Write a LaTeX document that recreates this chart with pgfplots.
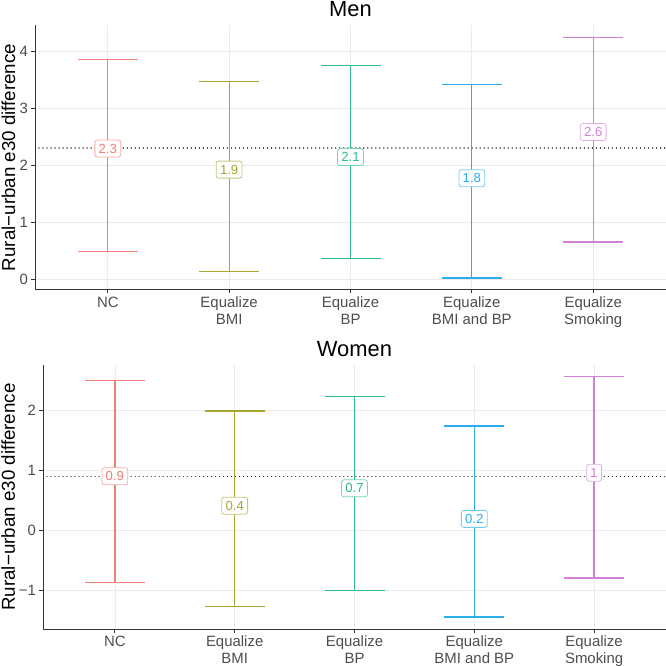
\documentclass[border=0pt]{standalone}
\usepackage{pgfplots}
\pgfplotsset{compat=1.18}
\usepackage{fontspec}
\setmainfont{Liberation Sans}

\definecolor{cNC}{HTML}{F27F78}
\definecolor{cBMI}{HTML}{A8A632}
\definecolor{cBP}{HTML}{2EBD85}
\definecolor{cBB}{HTML}{2AADEB}
\definecolor{cSM}{HTML}{D27FD8}
\definecolor{tickgray}{HTML}{4D4D4D}
\definecolor{axgray}{HTML}{333333}
\definecolor{gridgray}{HTML}{EBEBEB}

\pgfplotsset{
  panel/.style={
    scale only axis,
    xmin=0.4, xmax=5.6,
    xtick={1,2,3,4,5},
    xticklabels={NC, Equalize\\BMI, Equalize\\BP, Equalize\\BMI and BP, Equalize\\Smoking},
    xticklabel style={align=center, font=\fontsize{15}{17}\selectfont, text=tickgray},
    yticklabel style={font=\fontsize{15}{17}\selectfont, text=tickgray},
    axis lines*=left, tick align=outside, major tick length=3.5bp,
    axis line style={color=axgray, line width=1bp},
    tick style={color=axgray, line width=0.8bp},
    grid=major, major grid style={color=gridgray, line width=0.7bp},
    title style={at={(0.5,1)}, anchor=base, yshift=2.8bp, font=\fontsize{22}{24}\selectfont},
    every axis y label/.style={rotate=90, anchor=center, font=\fontsize{18.8}{20}\selectfont},
    /pgf/number format/assume math mode=true,
  },
  refline/.style={forget plot, color=axgray, line width=1.4bp, line cap=round, dash pattern=on 0.01bp off 4bp},
  ebar/.style={
    color=#1, mark=none, forget plot,
    nodes near coords, point meta=explicit symbolic,
    nodes near coords align=center,
    every node near coord/.append style={anchor=center, draw=#1!65, fill=white, text=#1,
      rounded corners=2.5bp, line width=0.8bp, inner xsep=3.8bp, inner ysep=0pt,
      minimum height=17bp, font=\fontsize{13.2}{14}\selectfont},
    error bars/y dir=both, error bars/y explicit,
    error bars/error mark=|,
    error bars/error bar style={color=#1, line width=1.25bp},
    error bars/error mark options={color=#1, mark size=30bp, line width=1.25bp},
  },
}
\pgfkeys{/pgfplots/table/etab/.style={x=x, y=y, y error plus expr=\thisrow{hi}-\thisrow{y}, y error minus expr=\thisrow{y}-\thisrow{lo}, meta=lab}}

\begin{document}
\begin{tikzpicture}
\useasboundingbox (0,0) rectangle (666bp,666bp);
\begin{axis}[panel, at={(35bp,376bp)}, anchor=south west, width=631bp, height=265bp,
  ymin=-0.19, ymax=4.456, ytick={0,1,2,3,4}, yticklabels={0,1,2,3,4},
  title={Men}, ylabel={Rural−urban e30 difference},
  ylabel style={at={(axis description cs:-0.042,0.5)}}]
\addplot[refline] coordinates {(0.4,2.3) (5.6,2.3)};
\addplot[ebar=cNC] table[etab] {
x y lo hi lab
1 2.29 0.49 3.85 2.3
};
\addplot[ebar=cBMI] table[etab] {
x y lo hi lab
2 1.92 0.135 3.47 1.9
};
\addplot[ebar=cBP] table[etab] {
x y lo hi lab
3 2.14 0.36 3.75 2.1
};
\addplot[ebar=cBB] table[etab] {
x y lo hi lab
4 1.77 0.02 3.41 1.8
};
\addplot[ebar=cSM] table[etab] {
x y lo hi lab
5 2.58 0.65 4.24 2.6
};
\end{axis}
\begin{axis}[panel, at={(43bp,37bp)}, anchor=south west, width=623bp, height=264bp,
  ymin=-1.65, ymax=2.76, ytick={-1,0,1,2}, yticklabels={−1,0,1,2},
  title={Women}, ylabel={Rural−urban e30 difference},
  ylabel style={at={(axis description cs:-0.0557,0.5)}}]
\addplot[refline] coordinates {(0.4,0.9) (5.6,0.9)};
\addplot[ebar=cNC] table[etab] {
x y lo hi lab
1 0.90 -0.87 2.50 0.9
};
\addplot[ebar=cBMI] table[etab] {
x y lo hi lab
2 0.41 -1.28 1.99 0.4
};
\addplot[ebar=cBP] table[etab] {
x y lo hi lab
3 0.70 -1.01 2.23 0.7
};
\addplot[ebar=cBB] table[etab] {
x y lo hi lab
4 0.19 -1.45 1.74 0.2
};
\addplot[ebar=cSM] table[etab] {
x y lo hi lab
5 0.96 -0.80 2.57 1
};
\end{axis}
\end{tikzpicture}
\end{document}
